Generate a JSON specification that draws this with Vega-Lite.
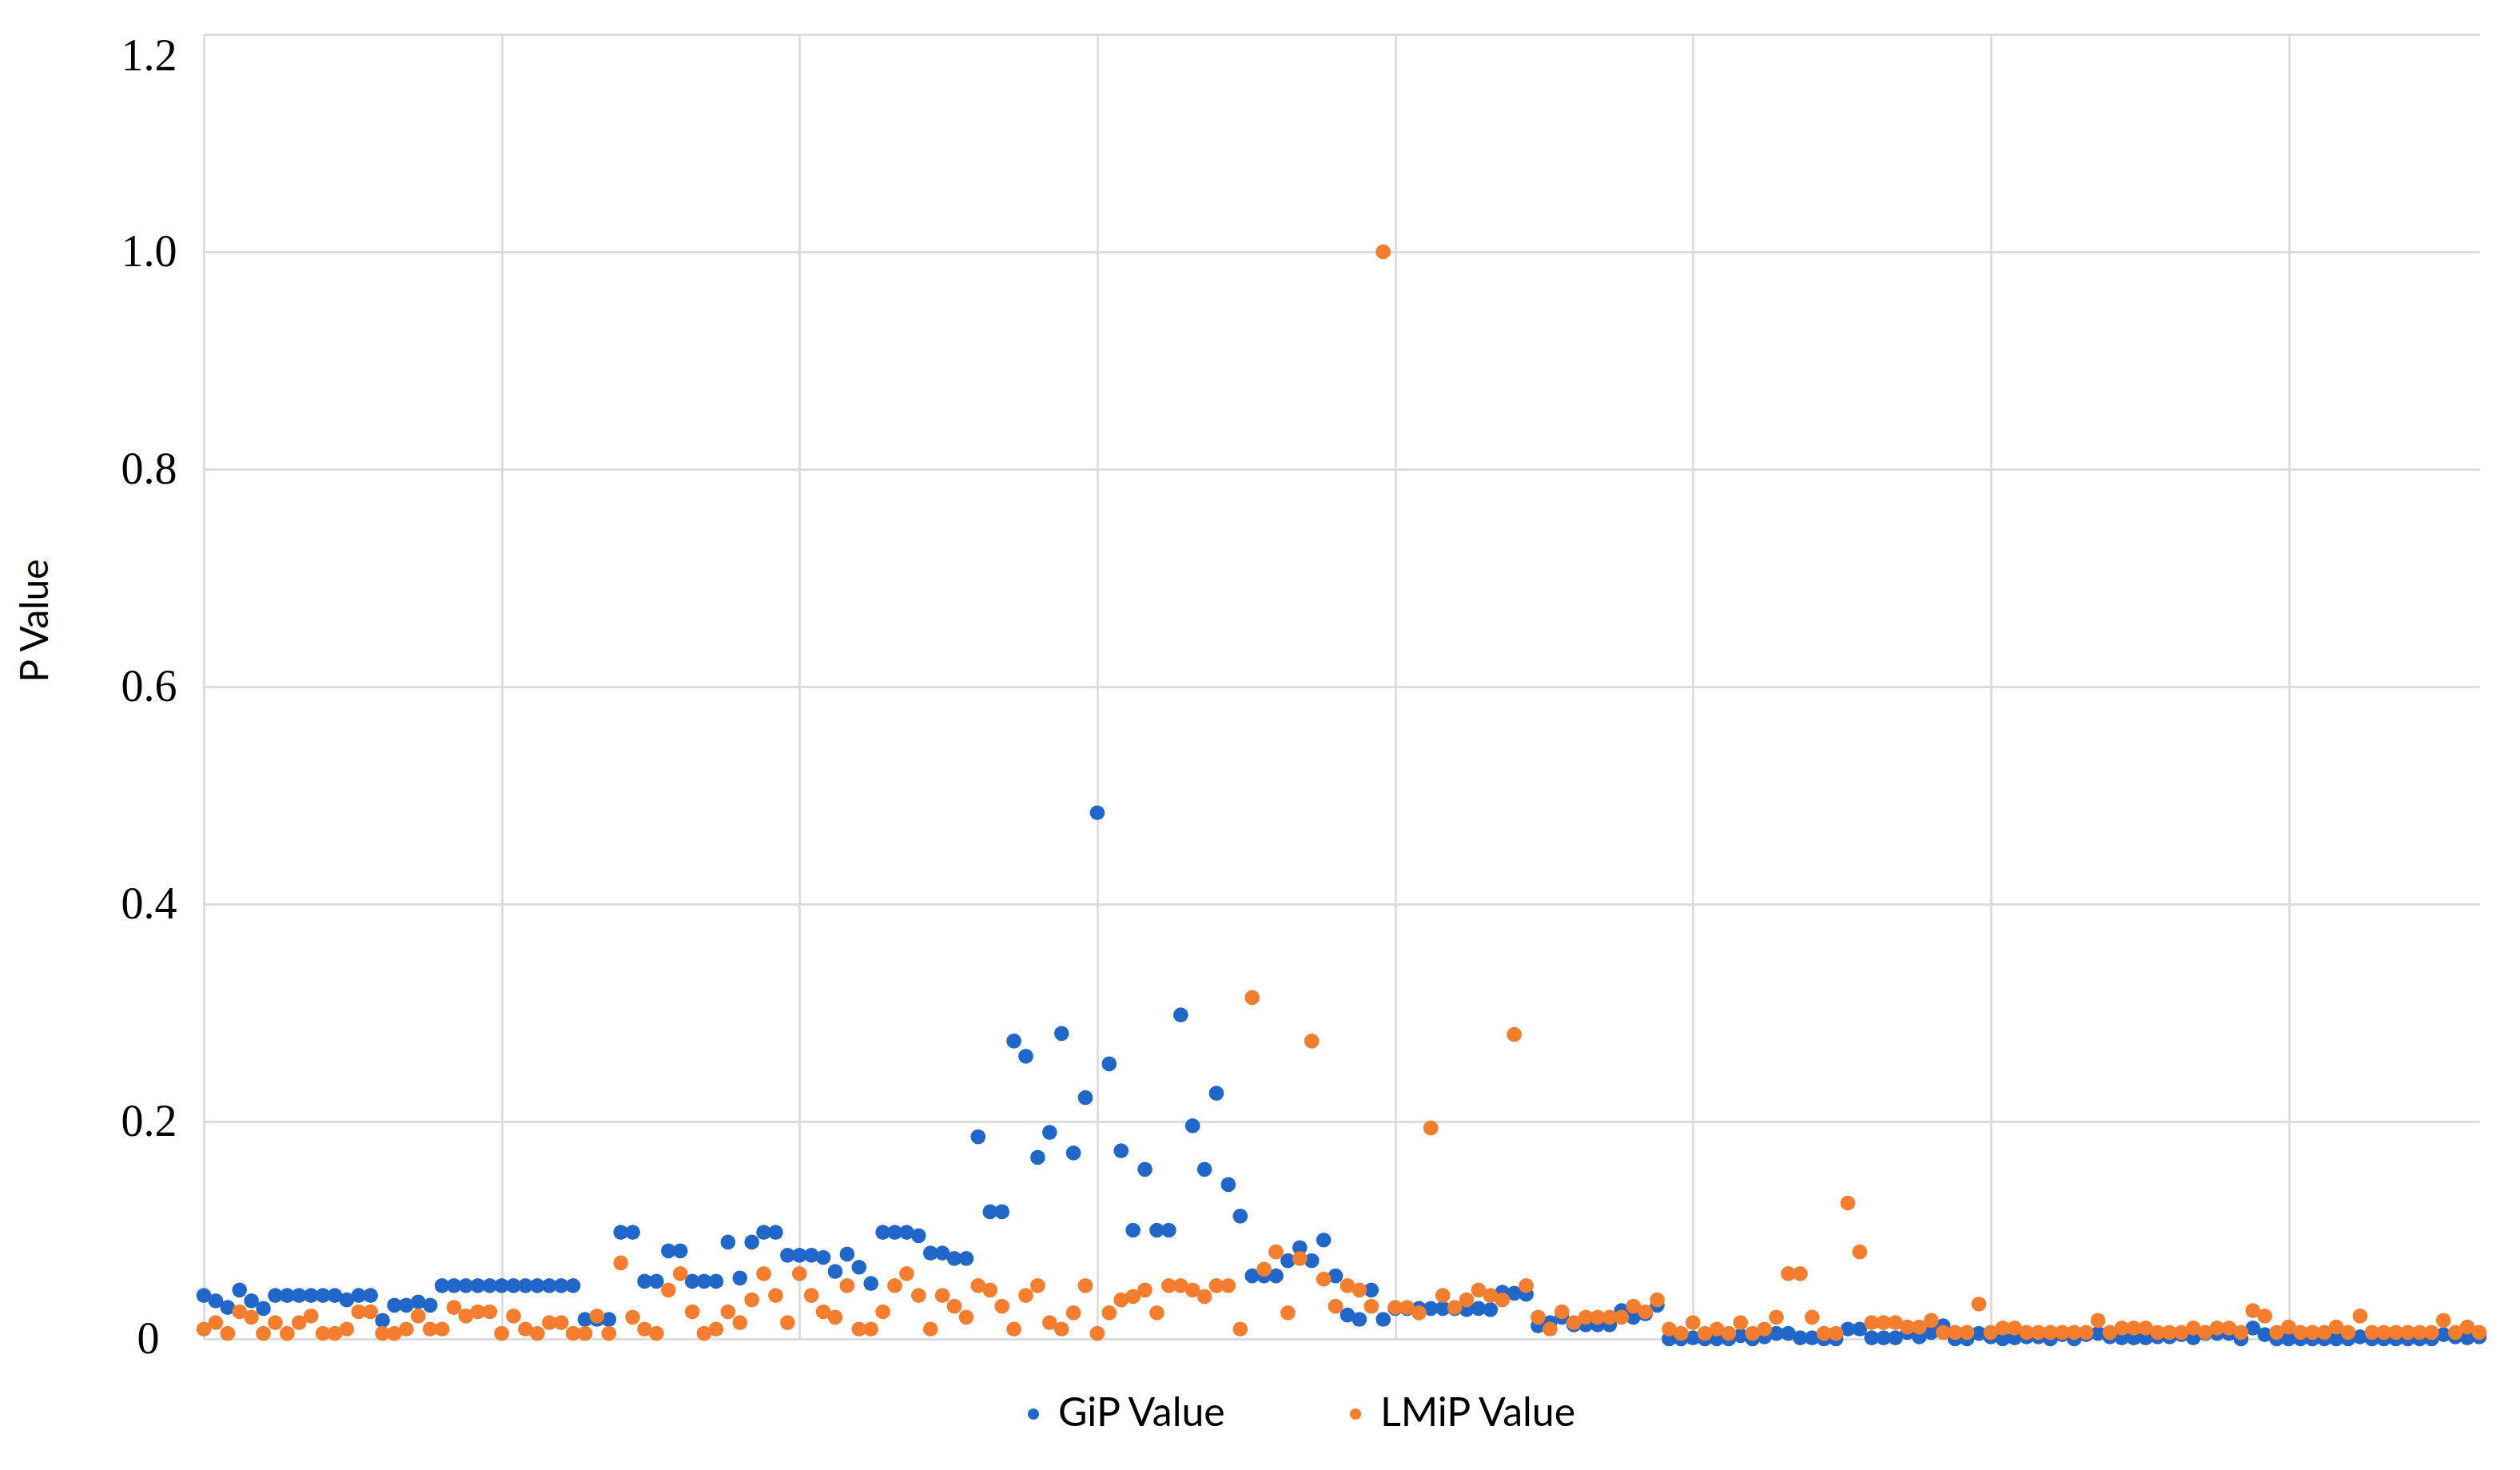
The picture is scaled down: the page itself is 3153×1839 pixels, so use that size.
{
  "$schema": "https://vega.github.io/schema/vega-lite/v6.json",
  "width": 2847,
  "height": 1632,
  "autosize": {"type": "none"},
  "padding": {"left": 255, "top": 43, "right": 51, "bottom": 164},
  "background": "white",
  "data": {
    "values": [
      {"i": 0, "GiP Value": 0.040, "LMiP Value": 0.009},
      {"i": 1, "GiP Value": 0.035, "LMiP Value": 0.015},
      {"i": 2, "GiP Value": 0.029, "LMiP Value": 0.005},
      {"i": 3, "GiP Value": 0.045, "LMiP Value": 0.025},
      {"i": 4, "GiP Value": 0.035, "LMiP Value": 0.020},
      {"i": 5, "GiP Value": 0.028, "LMiP Value": 0.005},
      {"i": 6, "GiP Value": 0.040, "LMiP Value": 0.015},
      {"i": 7, "GiP Value": 0.040, "LMiP Value": 0.005},
      {"i": 8, "GiP Value": 0.040, "LMiP Value": 0.015},
      {"i": 9, "GiP Value": 0.040, "LMiP Value": 0.021},
      {"i": 10, "GiP Value": 0.040, "LMiP Value": 0.005},
      {"i": 11, "GiP Value": 0.040, "LMiP Value": 0.005},
      {"i": 12, "GiP Value": 0.036, "LMiP Value": 0.009},
      {"i": 13, "GiP Value": 0.040, "LMiP Value": 0.025},
      {"i": 14, "GiP Value": 0.040, "LMiP Value": 0.025},
      {"i": 15, "GiP Value": 0.017, "LMiP Value": 0.005},
      {"i": 16, "GiP Value": 0.031, "LMiP Value": 0.005},
      {"i": 17, "GiP Value": 0.031, "LMiP Value": 0.009},
      {"i": 18, "GiP Value": 0.034, "LMiP Value": 0.021},
      {"i": 19, "GiP Value": 0.031, "LMiP Value": 0.009},
      {"i": 20, "GiP Value": 0.049, "LMiP Value": 0.009},
      {"i": 21, "GiP Value": 0.049, "LMiP Value": 0.029},
      {"i": 22, "GiP Value": 0.049, "LMiP Value": 0.021},
      {"i": 23, "GiP Value": 0.049, "LMiP Value": 0.025},
      {"i": 24, "GiP Value": 0.049, "LMiP Value": 0.025},
      {"i": 25, "GiP Value": 0.049, "LMiP Value": 0.005},
      {"i": 26, "GiP Value": 0.049, "LMiP Value": 0.021},
      {"i": 27, "GiP Value": 0.049, "LMiP Value": 0.009},
      {"i": 28, "GiP Value": 0.049, "LMiP Value": 0.005},
      {"i": 29, "GiP Value": 0.049, "LMiP Value": 0.015},
      {"i": 30, "GiP Value": 0.049, "LMiP Value": 0.015},
      {"i": 31, "GiP Value": 0.049, "LMiP Value": 0.005},
      {"i": 32, "GiP Value": 0.018, "LMiP Value": 0.005},
      {"i": 33, "GiP Value": 0.018, "LMiP Value": 0.021},
      {"i": 34, "GiP Value": 0.018, "LMiP Value": 0.005},
      {"i": 35, "GiP Value": 0.098, "LMiP Value": 0.070},
      {"i": 36, "GiP Value": 0.098, "LMiP Value": 0.020},
      {"i": 37, "GiP Value": 0.053, "LMiP Value": 0.009},
      {"i": 38, "GiP Value": 0.053, "LMiP Value": 0.005},
      {"i": 39, "GiP Value": 0.081, "LMiP Value": 0.045},
      {"i": 40, "GiP Value": 0.081, "LMiP Value": 0.060},
      {"i": 41, "GiP Value": 0.053, "LMiP Value": 0.025},
      {"i": 42, "GiP Value": 0.053, "LMiP Value": 0.005},
      {"i": 43, "GiP Value": 0.053, "LMiP Value": 0.009},
      {"i": 44, "GiP Value": 0.089, "LMiP Value": 0.025},
      {"i": 45, "GiP Value": 0.056, "LMiP Value": 0.015},
      {"i": 46, "GiP Value": 0.089, "LMiP Value": 0.036},
      {"i": 47, "GiP Value": 0.098, "LMiP Value": 0.060},
      {"i": 48, "GiP Value": 0.098, "LMiP Value": 0.040},
      {"i": 49, "GiP Value": 0.077, "LMiP Value": 0.015},
      {"i": 50, "GiP Value": 0.077, "LMiP Value": 0.060},
      {"i": 51, "GiP Value": 0.077, "LMiP Value": 0.040},
      {"i": 52, "GiP Value": 0.075, "LMiP Value": 0.025},
      {"i": 53, "GiP Value": 0.062, "LMiP Value": 0.020},
      {"i": 54, "GiP Value": 0.078, "LMiP Value": 0.049},
      {"i": 55, "GiP Value": 0.066, "LMiP Value": 0.009},
      {"i": 56, "GiP Value": 0.051, "LMiP Value": 0.009},
      {"i": 57, "GiP Value": 0.098, "LMiP Value": 0.025},
      {"i": 58, "GiP Value": 0.098, "LMiP Value": 0.049},
      {"i": 59, "GiP Value": 0.098, "LMiP Value": 0.060},
      {"i": 60, "GiP Value": 0.095, "LMiP Value": 0.040},
      {"i": 61, "GiP Value": 0.079, "LMiP Value": 0.009},
      {"i": 62, "GiP Value": 0.079, "LMiP Value": 0.040},
      {"i": 63, "GiP Value": 0.074, "LMiP Value": 0.030},
      {"i": 64, "GiP Value": 0.074, "LMiP Value": 0.020},
      {"i": 65, "GiP Value": 0.186, "LMiP Value": 0.049},
      {"i": 66, "GiP Value": 0.117, "LMiP Value": 0.045},
      {"i": 67, "GiP Value": 0.117, "LMiP Value": 0.030},
      {"i": 68, "GiP Value": 0.274, "LMiP Value": 0.009},
      {"i": 69, "GiP Value": 0.260, "LMiP Value": 0.040},
      {"i": 70, "GiP Value": 0.167, "LMiP Value": 0.049},
      {"i": 71, "GiP Value": 0.190, "LMiP Value": 0.015},
      {"i": 72, "GiP Value": 0.281, "LMiP Value": 0.009},
      {"i": 73, "GiP Value": 0.171, "LMiP Value": 0.024},
      {"i": 74, "GiP Value": 0.222, "LMiP Value": 0.049},
      {"i": 75, "GiP Value": 0.484, "LMiP Value": 0.005},
      {"i": 76, "GiP Value": 0.253, "LMiP Value": 0.024},
      {"i": 77, "GiP Value": 0.173, "LMiP Value": 0.036},
      {"i": 78, "GiP Value": 0.100, "LMiP Value": 0.039},
      {"i": 79, "GiP Value": 0.156, "LMiP Value": 0.045},
      {"i": 80, "GiP Value": 0.100, "LMiP Value": 0.024},
      {"i": 81, "GiP Value": 0.100, "LMiP Value": 0.049},
      {"i": 82, "GiP Value": 0.298, "LMiP Value": 0.049},
      {"i": 83, "GiP Value": 0.196, "LMiP Value": 0.045},
      {"i": 84, "GiP Value": 0.156, "LMiP Value": 0.039},
      {"i": 85, "GiP Value": 0.226, "LMiP Value": 0.049},
      {"i": 86, "GiP Value": 0.142, "LMiP Value": 0.049},
      {"i": 87, "GiP Value": 0.113, "LMiP Value": 0.009},
      {"i": 88, "GiP Value": 0.058, "LMiP Value": 0.314},
      {"i": 89, "GiP Value": 0.058, "LMiP Value": 0.064},
      {"i": 90, "GiP Value": 0.058, "LMiP Value": 0.080},
      {"i": 91, "GiP Value": 0.072, "LMiP Value": 0.024},
      {"i": 92, "GiP Value": 0.084, "LMiP Value": 0.074},
      {"i": 93, "GiP Value": 0.072, "LMiP Value": 0.274},
      {"i": 94, "GiP Value": 0.091, "LMiP Value": 0.055},
      {"i": 95, "GiP Value": 0.058, "LMiP Value": 0.030},
      {"i": 96, "GiP Value": 0.022, "LMiP Value": 0.049},
      {"i": 97, "GiP Value": 0.018, "LMiP Value": 0.045},
      {"i": 98, "GiP Value": 0.045, "LMiP Value": 0.030},
      {"i": 99, "GiP Value": 0.018, "LMiP Value": 1.0},
      {"i": 100, "GiP Value": 0.028, "LMiP Value": 0.029},
      {"i": 101, "GiP Value": 0.028, "LMiP Value": 0.029},
      {"i": 102, "GiP Value": 0.028, "LMiP Value": 0.024},
      {"i": 103, "GiP Value": 0.028, "LMiP Value": 0.194},
      {"i": 104, "GiP Value": 0.028, "LMiP Value": 0.040},
      {"i": 105, "GiP Value": 0.028, "LMiP Value": 0.029},
      {"i": 106, "GiP Value": 0.027, "LMiP Value": 0.036},
      {"i": 107, "GiP Value": 0.028, "LMiP Value": 0.045},
      {"i": 108, "GiP Value": 0.027, "LMiP Value": 0.040},
      {"i": 109, "GiP Value": 0.043, "LMiP Value": 0.036},
      {"i": 110, "GiP Value": 0.042, "LMiP Value": 0.280},
      {"i": 111, "GiP Value": 0.041, "LMiP Value": 0.049},
      {"i": 112, "GiP Value": 0.012, "LMiP Value": 0.020},
      {"i": 113, "GiP Value": 0.015, "LMiP Value": 0.009},
      {"i": 114, "GiP Value": 0.020, "LMiP Value": 0.025},
      {"i": 115, "GiP Value": 0.013, "LMiP Value": 0.015},
      {"i": 116, "GiP Value": 0.013, "LMiP Value": 0.020},
      {"i": 117, "GiP Value": 0.013, "LMiP Value": 0.020},
      {"i": 118, "GiP Value": 0.013, "LMiP Value": 0.020},
      {"i": 119, "GiP Value": 0.026, "LMiP Value": 0.020},
      {"i": 120, "GiP Value": 0.020, "LMiP Value": 0.030},
      {"i": 121, "GiP Value": 0.023, "LMiP Value": 0.025},
      {"i": 122, "GiP Value": 0.031, "LMiP Value": 0.036},
      {"i": 123, "GiP Value": 0.0, "LMiP Value": 0.009},
      {"i": 124, "GiP Value": 0.0, "LMiP Value": 0.005},
      {"i": 125, "GiP Value": 0.001, "LMiP Value": 0.015},
      {"i": 126, "GiP Value": 0.0, "LMiP Value": 0.005},
      {"i": 127, "GiP Value": 0.0, "LMiP Value": 0.009},
      {"i": 128, "GiP Value": 0.0, "LMiP Value": 0.005},
      {"i": 129, "GiP Value": 0.003, "LMiP Value": 0.015},
      {"i": 130, "GiP Value": 0.0, "LMiP Value": 0.005},
      {"i": 131, "GiP Value": 0.002, "LMiP Value": 0.009},
      {"i": 132, "GiP Value": 0.005, "LMiP Value": 0.020},
      {"i": 133, "GiP Value": 0.005, "LMiP Value": 0.060},
      {"i": 134, "GiP Value": 0.001, "LMiP Value": 0.060},
      {"i": 135, "GiP Value": 0.001, "LMiP Value": 0.020},
      {"i": 136, "GiP Value": 0.0, "LMiP Value": 0.005},
      {"i": 137, "GiP Value": 0.0, "LMiP Value": 0.005},
      {"i": 138, "GiP Value": 0.009, "LMiP Value": 0.125},
      {"i": 139, "GiP Value": 0.009, "LMiP Value": 0.080},
      {"i": 140, "GiP Value": 0.001, "LMiP Value": 0.015},
      {"i": 141, "GiP Value": 0.001, "LMiP Value": 0.015},
      {"i": 142, "GiP Value": 0.001, "LMiP Value": 0.015},
      {"i": 143, "GiP Value": 0.006, "LMiP Value": 0.011},
      {"i": 144, "GiP Value": 0.002, "LMiP Value": 0.011},
      {"i": 145, "GiP Value": 0.006, "LMiP Value": 0.017},
      {"i": 146, "GiP Value": 0.012, "LMiP Value": 0.006},
      {"i": 147, "GiP Value": 0.0, "LMiP Value": 0.006},
      {"i": 148, "GiP Value": 0.0, "LMiP Value": 0.006},
      {"i": 149, "GiP Value": 0.005, "LMiP Value": 0.032},
      {"i": 150, "GiP Value": 0.002, "LMiP Value": 0.006},
      {"i": 151, "GiP Value": 0.0, "LMiP Value": 0.010},
      {"i": 152, "GiP Value": 0.001, "LMiP Value": 0.010},
      {"i": 153, "GiP Value": 0.002, "LMiP Value": 0.006},
      {"i": 154, "GiP Value": 0.002, "LMiP Value": 0.006},
      {"i": 155, "GiP Value": 0.0, "LMiP Value": 0.006},
      {"i": 156, "GiP Value": 0.004, "LMiP Value": 0.006},
      {"i": 157, "GiP Value": 0.0, "LMiP Value": 0.006},
      {"i": 158, "GiP Value": 0.004, "LMiP Value": 0.006},
      {"i": 159, "GiP Value": 0.005, "LMiP Value": 0.017},
      {"i": 160, "GiP Value": 0.002, "LMiP Value": 0.006},
      {"i": 161, "GiP Value": 0.001, "LMiP Value": 0.010},
      {"i": 162, "GiP Value": 0.001, "LMiP Value": 0.010},
      {"i": 163, "GiP Value": 0.001, "LMiP Value": 0.010},
      {"i": 164, "GiP Value": 0.002, "LMiP Value": 0.006},
      {"i": 165, "GiP Value": 0.002, "LMiP Value": 0.006},
      {"i": 166, "GiP Value": 0.004, "LMiP Value": 0.006},
      {"i": 167, "GiP Value": 0.001, "LMiP Value": 0.010},
      {"i": 168, "GiP Value": 0.005, "LMiP Value": 0.006},
      {"i": 169, "GiP Value": 0.005, "LMiP Value": 0.010},
      {"i": 170, "GiP Value": 0.005, "LMiP Value": 0.010},
      {"i": 171, "GiP Value": 0.0, "LMiP Value": 0.006},
      {"i": 172, "GiP Value": 0.010, "LMiP Value": 0.026},
      {"i": 173, "GiP Value": 0.004, "LMiP Value": 0.021},
      {"i": 174, "GiP Value": 0.0, "LMiP Value": 0.006},
      {"i": 175, "GiP Value": 0.0, "LMiP Value": 0.011},
      {"i": 176, "GiP Value": 0.0, "LMiP Value": 0.006},
      {"i": 177, "GiP Value": 0.0, "LMiP Value": 0.006},
      {"i": 178, "GiP Value": 0.0, "LMiP Value": 0.006},
      {"i": 179, "GiP Value": 0.0, "LMiP Value": 0.011},
      {"i": 180, "GiP Value": 0.0, "LMiP Value": 0.006},
      {"i": 181, "GiP Value": 0.002, "LMiP Value": 0.021},
      {"i": 182, "GiP Value": 0.0, "LMiP Value": 0.006},
      {"i": 183, "GiP Value": 0.0, "LMiP Value": 0.006},
      {"i": 184, "GiP Value": 0.0, "LMiP Value": 0.006},
      {"i": 185, "GiP Value": 0.0, "LMiP Value": 0.006},
      {"i": 186, "GiP Value": 0.0, "LMiP Value": 0.006},
      {"i": 187, "GiP Value": 0.0, "LMiP Value": 0.006},
      {"i": 188, "GiP Value": 0.004, "LMiP Value": 0.017},
      {"i": 189, "GiP Value": 0.002, "LMiP Value": 0.006},
      {"i": 190, "GiP Value": 0.001, "LMiP Value": 0.011},
      {"i": 191, "GiP Value": 0.002, "LMiP Value": 0.006}
    ]
  },
  "transform": [
    {"fold": ["GiP Value", "LMiP Value"], "as": ["series", "p"]}
  ],
  "mark": {"type": "circle", "size": 350, "opacity": 1, "clip": false},
  "encoding": {
    "x": {
      "field": "i",
      "type": "quantitative",
      "scale": {"domain": [0, 191], "nice": false, "zero": false},
      "axis": {
        "values": [0, 25, 50, 75, 100, 125, 150, 175],
        "grid": true,
        "gridColor": "#d9d9d9",
        "gridWidth": 2.5,
        "labels": false,
        "ticks": false,
        "domain": false,
        "title": null
      }
    },
    "y": {
      "field": "p",
      "type": "quantitative",
      "scale": {"domain": [0, 1.2], "nice": false},
      "axis": {
        "values": [0, 0.2, 0.4, 0.6, 0.8, 1.0, 1.2],
        "labelExpr": "datum.value == 0 ? '0' : format(datum.value, '.1f')",
        "grid": true,
        "gridColor": "#d9d9d9",
        "gridWidth": 2.5,
        "ticks": false,
        "domain": false,
        "labelFont": "Liberation Serif",
        "labelFontSize": 56,
        "labelColor": "#000000",
        "labelPadding": {"condition": {"test": "datum.value == 0", "value": 56}, "value": 34},
        "labelBaseline": {"condition": {"test": "datum.value == 1.2", "value": "top"}, "value": "middle"},
        "title": "P Value",
        "titleFont": "Lato",
        "titleFontSize": 48,
        "titleFontWeight": "normal",
        "titleColor": "#000000",
        "titleAngle": -90,
        "titleAlign": "center",
        "titleBaseline": "middle",
        "titleX": -210,
        "titleY": 733
      }
    },
    "color": {
      "field": "series",
      "type": "nominal",
      "scale": {"domain": ["GiP Value", "LMiP Value"], "range": ["#2067c9", "#f57d2e"]},
      "legend": {
        "title": null,
        "orient": "none",
        "direction": "horizontal",
        "legendX": 1013,
        "legendY": 1701,
        "padding": 0,
        "symbolType": "circle",
        "symbolSize": 200,
        "symbolStrokeWidth": 0,
        "symbolOpacity": 1,
        "labelFont": "Lato",
        "labelFontSize": 50,
        "labelColor": "#000000",
        "labelLimit": 0,
        "labelOffset": 6,
        "columnPadding": 135
      }
    },
    "order": {"field": "series", "type": "nominal"}
  },
  "config": {
    "view": {"stroke": null}
  }
}
